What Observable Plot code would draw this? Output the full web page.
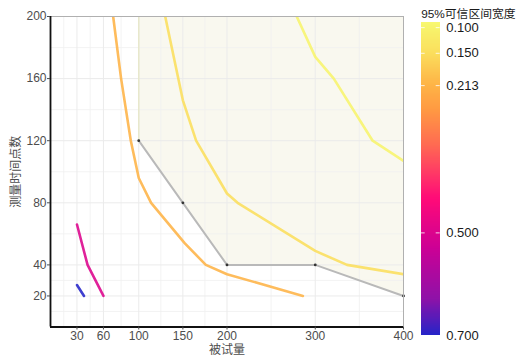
<!DOCTYPE html>
<html>
<head>
<meta charset="utf-8">
<script src="https://cdn.jsdelivr.net/npm/d3@7"></script>
<script src="https://cdn.jsdelivr.net/npm/@observablehq/plot@0.6"></script>
<style>
  body { margin: 0; background: #fff; }
  #wrap { position: relative; width: 520px; height: 358px; overflow: hidden; }
  #wrap svg { position: absolute; top: 0; }
</style>
</head>
<body>
<div id="wrap"></div>
<script>
// ---- data ----
const xTicks = [30, 60, 100, 150, 200, 300, 400];
const yTicks = [20, 40, 80, 120, 160, 200];
const xMinor = [15, 45, 80, 125, 175, 250, 350];
const yMinor = [10, 30, 60, 100, 140, 180];
const legendTicks = [0.1, 0.15, 0.213, 0.5, 0.7];

// contour lines (95% CI width levels)
const c100X = [279, 300, 321, 365, 400];
const c100Y = [200, 174, 160, 120, 107];
const c150X = [130, 150, 165, 200, 212, 300, 336, 400];
const c150Y = [200, 146, 120, 86, 80, 49, 40, 34];
const c213X = [71, 80, 91, 100, 114, 152, 176, 200, 286];
const c213Y = [200, 160, 120, 96, 80, 54, 40, 34, 20];
const c500X = [30, 42, 60];
const c500Y = [66, 40, 20];
const c700X = [30, 38];
const c700Y = [27, 20];

// recommended design path
const pathX = [100, 150, 200, 300, 400];
const pathY = [120, 80, 40, 40, 20];

// colour gradient
const colorStops = [0.09, 0.1, 0.15, 0.213, 0.26, 0.33, 0.435, 0.53, 0.63, 0.7];
const colorValues = ["#f8f870", "#f7f46c", "#fbde5c", "#feb346", "#ff9a42", "#ff6a52", "#ff0a78", "#cc0095", "#8e12a8", "#2424c8"];

const xLabel = "被试量";
const yLabel = "测量时间点数";
const legendTitle = "95%可信区间宽度";
const xMax = 400, yTop = 200;

// ---- build tables ----
const contours = [
  [0.1, c100X, c100Y], [0.15, c150X, c150Y], [0.213, c213X, c213Y],
  [0.5, c500X, c500Y], [0.7, c700X, c700Y]
];
const contourRows = contours.flatMap(([level, xs, ys]) => xs.map((x, i) => ({level, x, y: ys[i]})));
const pathRows = pathX.map((x, i) => ({x, y: pathY[i]}));

const colorOpts = {type: "linear", domain: colorStops, range: colorValues, interpolate: "rgb"};
const fontFam = "'Liberation Sans', Arial, 'Noto Sans CJK SC', sans-serif";

const main = Plot.plot({
  width: 520, height: 358,
  marginLeft: 50, marginRight: 117, marginTop: 16, marginBottom: 31.5,
  x: {domain: [0, xMax]},
  y: {domain: [0, yTop]},
  color: colorOpts,
  style: {fontFamily: fontFam, fontSize: "12px", background: "transparent", overflow: "visible"},
  marks: [
    Plot.areaY(pathRows, {x: "x", y1: "y", y2: () => yTop, fill: "#f9f8ef"}),
    Plot.gridX(xMinor, {stroke: "#f0f0f0", strokeOpacity: 1, strokeWidth: 0.8}),
    Plot.gridY(yMinor, {stroke: "#f0f0f0", strokeOpacity: 1, strokeWidth: 0.8}),
    Plot.gridX(xTicks, {stroke: "#ebebeb", strokeOpacity: 1, strokeWidth: 1}),
    Plot.gridY(yTicks, {stroke: "#ebebeb", strokeOpacity: 1, strokeWidth: 1}),
    Plot.ruleX([pathRows[0]], {x: "x", y1: "y", y2: () => yTop, stroke: "#e8e8cc", strokeWidth: 1.5}),
    Plot.line(contourRows, {x: "x", y: "y", z: "level", stroke: "level", strokeWidth: 2.6, strokeOpacity: 0.88, clip: true}),
    Plot.line(pathRows, {x: "x", y: "y", stroke: "#b9b9b9", strokeWidth: 2}),
    Plot.dot(pathRows, {x: "x", y: "y", r: 1.4, fill: "#333"}),
    Plot.ruleY([yTop], {stroke: "#b0b0b0", strokeWidth: 1}),
    Plot.ruleX([xMax], {stroke: "#b0b0b0", strokeWidth: 1}),
    Plot.ruleX([0], {stroke: "#111", strokeWidth: 1.8}),
    Plot.ruleY([0], {stroke: "#111", strokeWidth: 1.8}),
    Plot.axisX({ticks: xTicks, tickSize: 3, tickPadding: 1, fill: "#4d4d4d", stroke: "#4d4d4d",
      label: xLabel, labelAnchor: "center", labelArrow: "none", labelOffset: 27, fontSize: 12}),
    Plot.axisY({ticks: yTicks, tickSize: 3, tickPadding: 1, fill: "#4d4d4d", stroke: "#4d4d4d",
      label: yLabel, labelAnchor: "center", labelArrow: "none", labelOffset: 39, fontSize: 12})
  ]
});

const step = 0.002;
const barRows = d3.range(colorStops[0], colorStops[colorStops.length - 1], step)
  .map(v => ({v0: v, v1: Math.min(v + step * 1.3, colorStops[colorStops.length - 1]), v: v + step / 2}));

const legend = Plot.plot({
  width: 115, height: 358,
  marginLeft: 16.7, marginRight: 79.3, marginTop: 22, marginBottom: 23,
  x: {domain: [0, 1], axis: null},
  y: {domain: [colorStops[0], colorStops[colorStops.length - 1]], reverse: true, axis: null},
  color: colorOpts,
  style: {fontFamily: fontFam, fontSize: "13px", background: "transparent", overflow: "visible"},
  marks: [
    Plot.rect(barRows, {y1: "v0", y2: "v1", fill: "v", shapeRendering: "crispEdges"}),
    Plot.tickY(legendTicks, {y: d => d, stroke: "white", strokeOpacity: 0.8, strokeDasharray: "4 11", strokeWidth: 1}),
    Plot.axisY({anchor: "right", ticks: legendTicks, tickFormat: ".3f", tickSize: 0, tickPadding: 6,
      fill: "#1a1a1a", fontSize: 13, label: null}),
    Plot.text([legendTitle], {frameAnchor: "top-left", textAnchor: "start", lineAnchor: "bottom", dy: -5,
      fontSize: 11.8, fill: "#1a1a1a"})
  ]
});
legend.style.left = "404px";

const wrap = document.getElementById("wrap");
wrap.appendChild(main);
wrap.appendChild(legend);
</script>
</body>
</html>
